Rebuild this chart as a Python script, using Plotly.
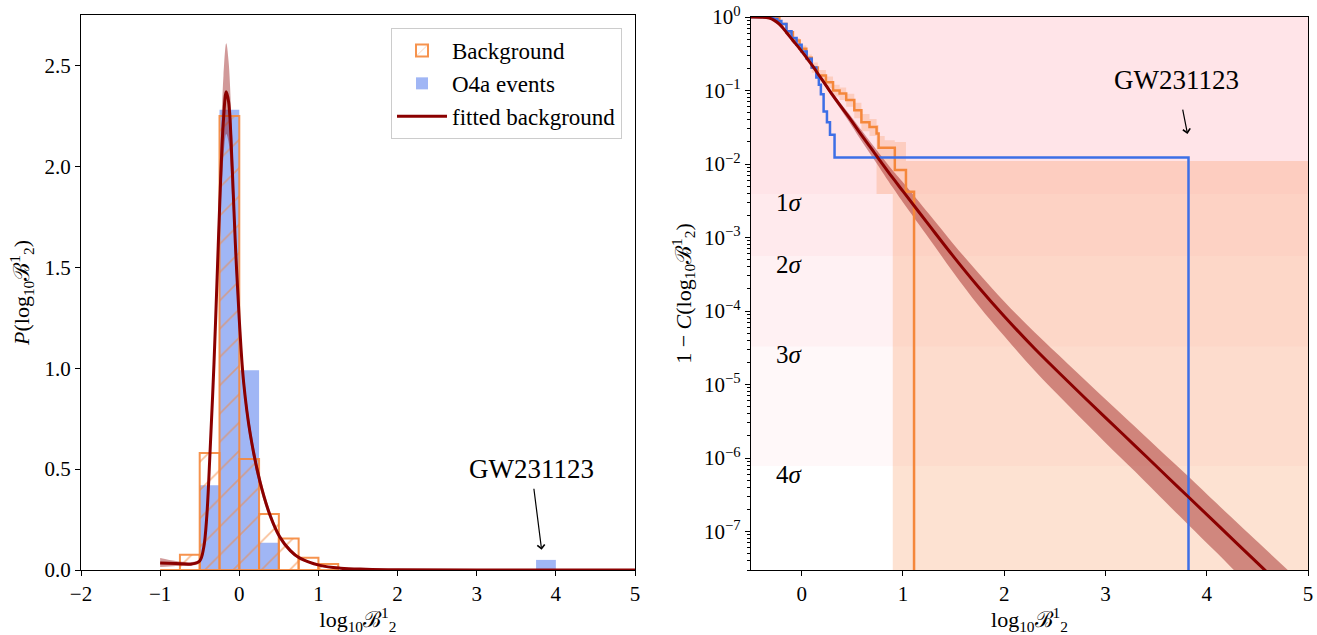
import math
import plotly.graph_objects as go

# ---------------- data: left panel ----------------
bin_width = 0.25
bg_bin_left = [-1.0, -0.75, -0.5, -0.25, 0.0, 0.25, 0.5, 0.75, 1.0]
bg_density = [0.0, 0.075, 0.58, 2.25, 0.55, 0.278, 0.156, 0.061, 0.03]

o4a_bin_left = [-0.5, -0.25, 0.0, 0.25, 3.75]
o4a_density = [0.42, 2.28, 0.99, 0.135, 0.05]

fit_x = [-1.0, -0.8, -0.6, -0.5, -0.45, -0.41, -0.37, -0.32, -0.28, -0.24, -0.2, -0.165,
         -0.135, -0.09, -0.05, 0.0, 0.055, 0.14, 0.26, 0.39, 0.51, 0.645, 0.76, 1.02,
         1.28, 1.6, 2.0, 3.0, 5.0]
fit_y = [0.035, 0.032, 0.03, 0.045, 0.11, 0.27, 0.58, 1.02, 1.45, 1.89, 2.23, 2.37,
         2.32, 2.0, 1.62, 1.24, 0.93, 0.67, 0.44, 0.27, 0.165, 0.096, 0.06, 0.023,
         0.009, 0.004, 0.0015, 0.0004, 0.0001]
fit_lo = [0.015, 0.02, 0.022, 0.035, 0.09, 0.24, 0.53, 0.95, 1.35, 1.75, 2.05, 2.16,
          2.12, 1.85, 1.52, 1.17, 0.88, 0.63, 0.41, 0.25, 0.15, 0.085, 0.053, 0.019,
          0.007, 0.003, 0.001, 0.0002, 0.0]
fit_hi = [0.06, 0.045, 0.04, 0.055, 0.13, 0.30, 0.63, 1.10, 1.57, 2.05, 2.45, 2.61,
          2.52, 2.15, 1.72, 1.31, 0.98, 0.71, 0.47, 0.29, 0.18, 0.107, 0.067, 0.027,
          0.011, 0.005, 0.002, 0.0006, 0.0002]

# ---------------- data: right panel ----------------
sigma_names = ["1", "2", "3", "4"]
sigma_p = [3.9e-3, 5.6e-4, 3.3e-5, 7.8e-7]

cdf_x = [-0.5, -0.4, -0.32, -0.27, -0.22, -0.15, -0.086, -0.02, 0.046, 0.11, 0.18, 0.24,
         0.31, 0.40, 0.47, 0.572, 0.72, 0.9, 1.0, 1.262, 1.5, 1.75, 2.0, 2.3, 2.63,
         3.0, 3.29, 3.6, 3.82, 4.1, 4.51, 4.8, 5.0]
cdf_p = [1.0, 0.995, 0.966, 0.90, 0.80, 0.617, 0.479, 0.372, 0.282, 0.214, 0.155, 0.1175,
         0.0851, 0.0575, 0.0427, 0.0269, 0.0141, 6.46e-3, 4.27e-3, 1.45e-3, 5.5e-4, 2.09e-4,
         8.5e-5, 3.09e-5, 1.10e-5, 3.55e-6, 1.48e-6, 5.75e-7, 2.95e-7, 1.26e-7, 3.63e-8,
         1.51e-8, 8.3e-9]
cdf_lo = [1.0, 0.995, 0.961, 0.891, 0.782, 0.600, 0.465, 0.359, 0.270, 0.2035, 0.146, 0.1096,
          0.0783, 0.0519, 0.0372, 0.0226, 0.01128, 4.78e-3, 3.02e-3, 9.58e-4, 3.32e-4, 1.17e-4,
          4.56e-5, 1.55e-5, 5.27e-6, 1.62e-6, 6.62e-7, 2.46e-7, 1.23e-7, 5.13e-8, 1.38e-8,
          5.6e-9, 3.0e-9]
cdf_hi = [1.0, 0.995, 0.971, 0.909, 0.818, 0.634, 0.493, 0.385, 0.293, 0.224, 0.164, 0.126,
          0.0918, 0.0630, 0.0479, 0.0312, 0.01692, 8.14e-3, 5.63e-3, 2.05e-3, 8.13e-4, 3.24e-4,
          1.35e-4, 5.13e-5, 1.91e-5, 6.31e-6, 2.69e-6, 1.07e-6, 5.62e-7, 2.40e-7, 7.08e-8,
          3.01e-8, 1.66e-8]

bg_step_x = [-0.5, -0.3, -0.22, -0.15, -0.086, -0.02, 0.046, 0.1, 0.16, 0.24, 0.31, 0.375,
             0.44, 0.52, 0.59, 0.67, 0.74, 0.76, 0.92, 1.03, 1.11]
bg_step_p = [1.0, 0.99, 0.80, 0.62, 0.48, 0.37, 0.28, 0.205, 0.16, 0.13, 0.10, 0.091,
             0.074, 0.054, 0.037, 0.032, 0.026, 0.0167, 0.0083, 0.0042, 1e-9]

bg_band_x = [-0.5, -0.3, -0.22, -0.15, -0.086, -0.02, 0.046, 0.1, 0.16, 0.24, 0.31, 0.375,
             0.44, 0.52, 0.59, 0.67, 0.74, 0.76, 0.82, 0.9, 0.92, 1.03, 5.0]
bg_band_hi = [1.0, 1.0, 0.83, 0.66, 0.52, 0.41, 0.31, 0.24, 0.19, 0.155, 0.12, 0.11,
              0.09, 0.068, 0.048, 0.041, 0.034, 0.024, 0.021, 0.021, 0.02, 0.011, 0.011]
bg_band_lo = [1.0, 0.98, 0.77, 0.58, 0.44, 0.335, 0.25, 0.175, 0.135, 0.108, 0.083, 0.074,
              0.06, 0.042, 0.028, 0.024, 0.0039, 0.0039, 0.0039, 1e-9, 1e-9, 1e-9, 1e-9]

ev_step_x = [-0.5, -0.33, -0.28, -0.24, -0.2, -0.15, -0.1, -0.05, 0.0, 0.05, 0.1, 0.145,
             0.17, 0.19, 0.217, 0.25, 0.28, 0.325, 3.82]
ev_step_p = [1.0, 0.98, 0.94, 0.88, 0.80, 0.64, 0.52, 0.42, 0.34, 0.27, 0.205, 0.15,
             0.12, 0.089, 0.052, 0.037, 0.025, 0.0123, 1e-9]

event_name = "GW231123"
event_x = 3.82

# ---------------- styling ----------------
FONT = "Liberation Serif"
ORANGE = "#f5873b"
BLUE = "#3d6fe6"
DARKRED = "#8b0000"
BAND_RED = "rgba(139,0,0,0.40)"
BAND_OR = "rgba(245,130,60,0.23)"
PINK = "rgba(248,120,140,0.055)"
BTITLE = "log<sub>10</sub>\u212c<sup>1</sup><sub>2</sub>"
TICK_SIZE = 21
TITLE_SIZE = 22

fig = go.Figure()

# ---- left panel ----
fig.add_trace(go.Bar(
    x=o4a_bin_left, y=o4a_density, width=bin_width, offset=0,
    marker=dict(color="rgba(65,110,235,0.5)", line=dict(width=0)),
    name="O4a events", legendgroup="b", legendrank=2,
    xaxis="x", yaxis="y"))
fig.add_trace(go.Bar(
    x=bg_bin_left, y=bg_density, width=bin_width, offset=0,
    marker=dict(color="rgba(0,0,0,0)",
                line=dict(color="rgba(245,135,59,0.9)", width=2),
                pattern=dict(shape="/", fgcolor=ORANGE, bgcolor="rgba(0,0,0,0)",
                             fgopacity=0.55, size=20, solidity=0.08)),
    name="Background", legendgroup="a", legendrank=1,
    xaxis="x", yaxis="y"))
fig.add_trace(go.Scatter(x=fit_x, y=fit_lo, mode="lines", line=dict(width=0, shape="spline"),
                         showlegend=False, hoverinfo="skip", xaxis="x", yaxis="y"))
fig.add_trace(go.Scatter(x=fit_x, y=fit_hi, mode="lines", line=dict(width=0, shape="spline"),
                         fill="tonexty", fillcolor=BAND_RED,
                         showlegend=False, hoverinfo="skip", xaxis="x", yaxis="y"))
fig.add_trace(go.Scatter(x=fit_x, y=fit_y, mode="lines",
                         line=dict(color=DARKRED, width=3, shape="spline"),
                         name="fitted background", legendgroup="c", legendrank=3,
                         xaxis="x", yaxis="y"))

# ---- right panel ----
fig.add_trace(go.Scatter(x=bg_band_x, y=bg_band_lo, mode="lines", line=dict(width=0, shape="hv"),
                         showlegend=False, hoverinfo="skip", xaxis="x2", yaxis="y2"))
fig.add_trace(go.Scatter(x=bg_band_x, y=bg_band_hi, mode="lines", line=dict(width=0, shape="hv"),
                         fill="tonexty", fillcolor=BAND_OR,
                         showlegend=False, hoverinfo="skip", xaxis="x2", yaxis="y2"))
fig.add_trace(go.Scatter(x=cdf_x, y=cdf_lo, mode="lines", line=dict(width=0, shape="spline"),
                         showlegend=False, hoverinfo="skip", xaxis="x2", yaxis="y2"))
fig.add_trace(go.Scatter(x=cdf_x, y=cdf_hi, mode="lines", line=dict(width=0, shape="spline"),
                         fill="tonexty", fillcolor=BAND_RED,
                         showlegend=False, hoverinfo="skip", xaxis="x2", yaxis="y2"))
fig.add_trace(go.Scatter(x=bg_step_x, y=bg_step_p, mode="lines",
                         line=dict(color=ORANGE, width=2.5, shape="hv"),
                         showlegend=False, xaxis="x2", yaxis="y2"))
fig.add_trace(go.Scatter(x=ev_step_x, y=ev_step_p, mode="lines",
                         line=dict(color=BLUE, width=2.5, shape="hv"),
                         showlegend=False, xaxis="x2", yaxis="y2"))
fig.add_trace(go.Scatter(x=cdf_x, y=cdf_p, mode="lines",
                         line=dict(color=DARKRED, width=3, shape="spline"),
                         showlegend=False, xaxis="x2", yaxis="y2"))

# sigma shading
shapes = []
for p in sigma_p:
    shapes.append(dict(type="rect", xref="x2 domain", yref="y2", x0=0, x1=1, y0=p, y1=1.0,
                       fillcolor=PINK, line=dict(width=0), layer="below"))

annotations = []
for name, p in zip(sigma_names, sigma_p):
    annotations.append(dict(xref="x2", yref="y2", x=-0.27, y=math.log10(p), yshift=7,
                            xanchor="left", yanchor="top", showarrow=False,
                            text=name + "<i>\u03c3</i>", font=dict(family=FONT, size=25, color="black")))

# event annotations (left)
annotations.append(dict(xref="x", yref="y", x=3.69, y=0.50, text=event_name, showarrow=False,
                        font=dict(family=FONT, size=27, color="black")))
annotations.append(dict(xref="x", yref="y", axref="x", ayref="y", x=event_x, y=0.1,
                        ax=3.72, ay=0.41, text="", showarrow=True, arrowhead=4,
                        arrowsize=1.2, arrowwidth=1.2, arrowcolor="black"))
# event annotations (right)
annotations.append(dict(xref="x2", yref="y2", x=3.70, y=-0.86, text=event_name, showarrow=False,
                        font=dict(family=FONT, size=27, color="black")))
annotations.append(dict(xref="x2", yref="y2", axref="x2", ayref="y2", x=3.81, y=-1.59,
                        ax=3.76, ay=-1.24, text="", showarrow=True, arrowhead=4,
                        arrowsize=1.2, arrowwidth=1.2, arrowcolor="black"))

axis_common = dict(showline=True, mirror=True, linecolor="black", linewidth=1.2,
                   ticks="outside", ticklen=5, tickwidth=1, tickcolor="black",
                   showgrid=False, zeroline=False, automargin=False,
                   tickfont=dict(family=FONT, size=TICK_SIZE, color="black"))

W, H = 1317, 635
ytop, ybot = 1 - 15 / H, 1 - 570 / H
ytick_vals = [1, 1e-1, 1e-2, 1e-3, 1e-4, 1e-5, 1e-6, 1e-7]
ytick_text = ["10<sup>0</sup>", "10<sup>\u22121</sup>", "10<sup>\u22122</sup>", "10<sup>\u22123</sup>",
              "10<sup>\u22124</sup>", "10<sup>\u22125</sup>", "10<sup>\u22126</sup>", "10<sup>\u22127</sup>"]
minor_vals = [m * 10 ** e for e in range(-8, 0) for m in range(2, 10)]

fig.update_layout(
    width=W, height=H,
    margin=dict(l=0, r=0, t=0, b=0, autoexpand=False),
    paper_bgcolor="white", plot_bgcolor="white",
    barmode="overlay",
    font=dict(family=FONT, size=18, color="black"),
    xaxis=dict(domain=[81 / W, 635 / W], range=[-2, 5], dtick=1, tick0=0,
               title=dict(text=BTITLE, font=dict(family=FONT, size=TITLE_SIZE), standoff=6),
               anchor="y", **axis_common),
    yaxis=dict(domain=[ybot, ytop], range=[0, 2.75], dtick=0.5, tick0=0, tickformat=".1f",
               title=dict(text="<i>P</i>(" + BTITLE + ")", font=dict(family=FONT, size=TITLE_SIZE), standoff=8),
               anchor="x", **axis_common),
    xaxis2=dict(domain=[751 / W, 1308 / W], range=[-0.5, 5], dtick=1, tick0=0,
                title=dict(text=BTITLE, font=dict(family=FONT, size=TITLE_SIZE), standoff=6),
                anchor="y2", **axis_common),
    yaxis2=dict(domain=[ybot, 1 - 17 / H], type="log", range=[math.log10(3e-8), 0],
                tickvals=ytick_vals, ticktext=ytick_text,
                minor=dict(tickvals=minor_vals, ticks="outside", ticklen=3, tickcolor="black"),
                title=dict(text="1 \u2212 <i>C</i>(" + BTITLE + ")", font=dict(family=FONT, size=TITLE_SIZE), standoff=6),
                anchor="x2", **axis_common),
    legend=dict(x=622 / W, y=1 - 28 / H, xanchor="right", yanchor="top",
                bgcolor="white", bordercolor="#cccccc", borderwidth=1,
                font=dict(family=FONT, size=23, color="black"),
                itemwidth=50, tracegroupgap=3, traceorder="normal"),
    shapes=shapes,
    annotations=annotations,
)

fig.write_html("out.html")
